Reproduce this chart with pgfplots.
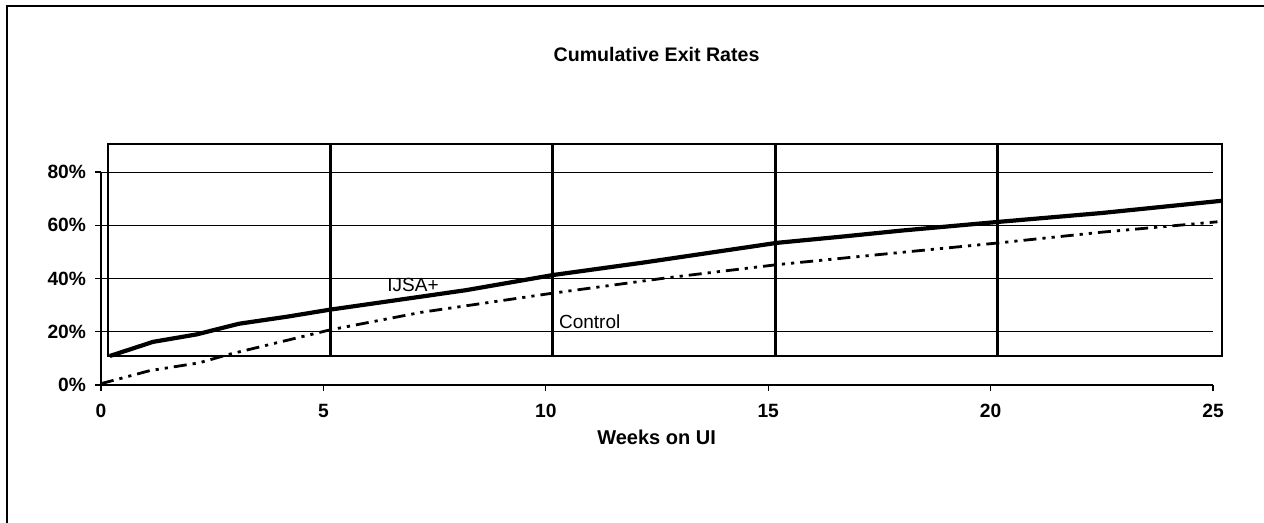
\documentclass[border=0pt]{standalone}
\usepackage{fontspec}
\setmainfont{Liberation Sans}
\usepackage{pgfplots}
\pgfplotsset{compat=1.18}
\begin{document}
\begin{tikzpicture}
\useasboundingbox (-50.5pt,-69pt) rectangle (581.5pt,192.5pt);
\draw[line width=0.9pt] (-47pt,-69pt) -- (-47pt,189.5pt) -- (581.5pt,189.5pt);
\begin{axis}[
  at={(0pt,0pt)}, anchor=south west,
  scale only axis, width=556pt, height=106.5pt,
  xmin=0, xmax=25, ymin=0, ymax=80,
  axis x line*=bottom, axis y line*=left,
  axis line style={line width=0.6pt, -},
  xtick={0,5,...,25}, ytick={0,20,...,80},
  tick align=outside, major tick length=3pt,
  tick style={line width=0.6pt, black},
  /pgf/number format/assume math mode=true,
  ticklabel style={font=\fontsize{9.6}{11}\selectfont\bfseries},
  yticklabel={\pgfmathprintnumber{\tick}\%},
  xticklabel style={yshift=-3pt},
  yticklabel style={xshift=-1pt},
  ymajorgrids, grid style={line width=0.5pt, black},
  clip=false,
]
% plot frame (Excel plot area)
\draw[line width=1pt] (axis cs:0.16,10.9) rectangle (axis cs:25.2,90.5);
\foreach \v in {5.16,10.16,15.16,20.16}{
  \edef\tmp{\noexpand\draw[line width=1.5pt] (axis cs:\v,10.9) -- (axis cs:\v,90.5);}\tmp
}
\addplot[black, line width=2.1pt, line join=round] coordinates {
 (0.2,10.9) (1.17,16.2) (2.15,19.0) (3.1,23.0) (4.2,25.7) (5.15,28.3)
 (6.7,32.0) (8.2,35.6) (10.16,41.3) (12.2,46.0) (15.2,53.4) (16.7,55.8)
 (18.0,58.0) (20.2,61.3) (22.5,64.6) (25.2,69.2)
};
\addplot[black, line width=1.4pt, dash pattern=on 6.5pt off 3pt on 1.6pt off 3pt on 1.6pt off 3pt] coordinates {
 (0,0.5) (1.1,5.4) (2.2,8.3) (2.9,11.6) (5.15,20.7) (7.2,27.3) (10.16,34.5)
 (12.7,40.2) (15.2,45.2) (17.5,49.0) (20.2,53.4) (22.5,57.4) (25.1,61.3)
};
\node[font=\fontsize{9.5}{11}\selectfont, anchor=west, inner sep=0pt] at (axis cs:6.43,37.6) {IJSA+};
\node[font=\fontsize{9.5}{11}\selectfont, anchor=west, inner sep=0pt] at (axis cs:10.29,23.7) {Control};
\node[font=\fontsize{9.8}{11}\selectfont\bfseries] at (axis cs:12.49,124) {Cumulative Exit Rates};
\node[font=\fontsize{10}{12}\selectfont\bfseries] at (axis cs:12.49,-19.5) {Weeks on UI};
\end{axis}
\end{tikzpicture}
\end{document}
